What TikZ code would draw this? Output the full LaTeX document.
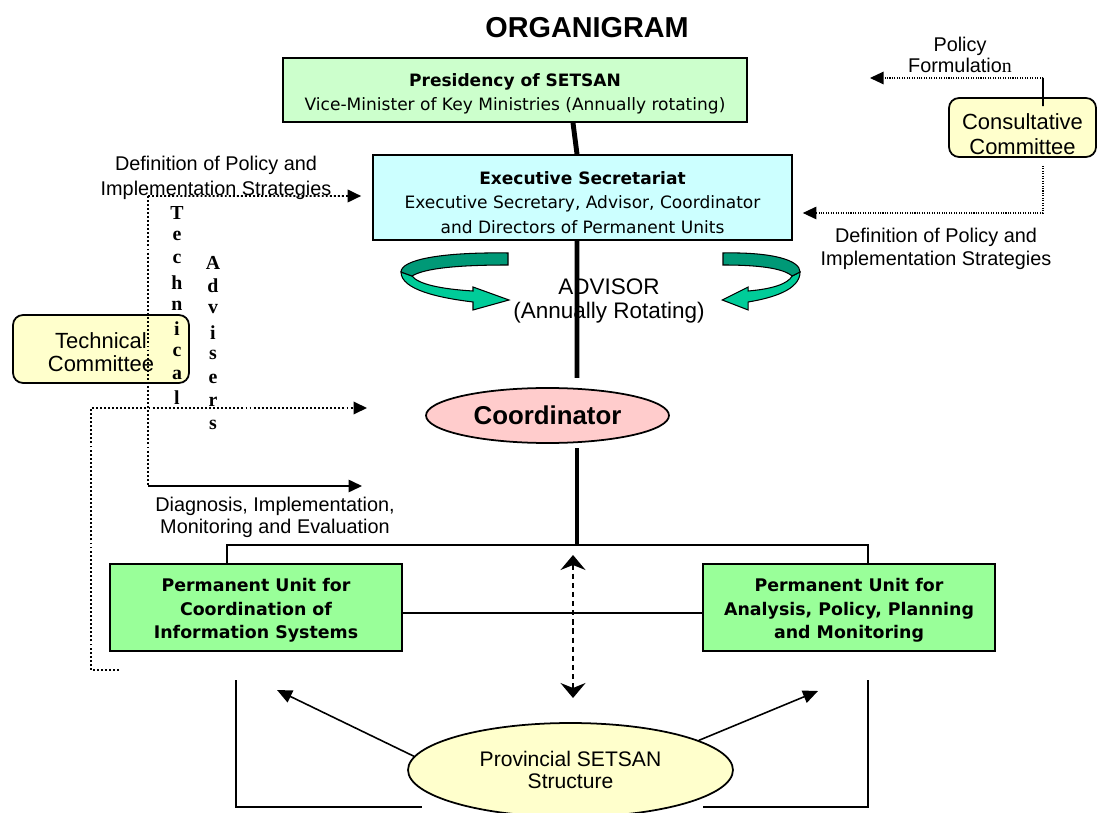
\documentclass[tikz,border=0pt]{standalone}
\usepackage{fontspec}
\setmainfont{Liberation Sans}
\newfontfamily\verdana{DejaVu Sans}
\newfontfamily\timesfont{Liberation Serif}
\usetikzlibrary{arrows.meta,shapes.geometric,positioning}

\definecolor{presgreen}{HTML}{CCFFCC}
\definecolor{execcyan}{HTML}{CCFFFF}
\definecolor{unitgreen}{HTML}{99FF99}
\definecolor{commyellow}{HTML}{FFFFCC}
\definecolor{coordpink}{HTML}{FFCCCC}
\definecolor{swirlfront}{HTML}{00CC99}
\definecolor{swirlback}{HTML}{009977}

\tikzset{
  boxed/.style={draw, line width=1pt, align=center, inner sep=0pt,
    font=\verdana\fontsize{9.7}{14}\selectfont},
  unitbox/.style={boxed, fill=unitgreen, minimum width=5.84cm, minimum height=1.74cm,
    font=\verdana\bfseries\fontsize{9.9}{13.3}\selectfont},
  committee/.style={draw, line width=1pt, rounded corners=0.2cm, fill=commyellow,
    align=center, inner sep=0pt, font=\fontsize{12.5}{14.2}\selectfont},
  notetext/.style={align=center, inner sep=0pt},
  vletter/.style={inner sep=0pt, font=\timesfont\bfseries\fontsize{11.3}{12}\selectfont},
  spine/.style={line width=2.8pt},
  link/.style={line width=0.9pt},
  dotline/.style={line width=1.1pt, dash pattern=on 1.1pt off 1.2pt},
  thindot/.style={line width=0.6pt, dash pattern=on 0.6pt off 0.8pt},
  headed/.style={-{Triangle[length=0.27cm,width=0.25cm]}}
}

% twisted ribbon arrow, drawn in pixel units
\newcommand{\advswirl}{%
  \filldraw[fill=swirlfront, line width=0.6pt] (401,272) .. controls (401,290) and (440,298) .. (473,302)
    -- (473,310) -- (509,300) -- (473,287) -- (473,291)
    .. controls (440,289) and (418,284) .. (412,276) -- cycle;
  \filldraw[fill=swirlback, line width=0.6pt] (508,253) .. controls (440,252) and (401,260) .. (401,272)
    -- (412,276) .. controls (425,268) and (460,265) .. (508,265) -- cycle;
}

\begin{document}
\begin{tikzpicture}[x=0.02cm,y=-0.02cm]
\path[use as bounding box, fill=white] (0,0) rectangle (1097,813);

\node[font=\bfseries\fontsize{16.4}{18}\selectfont] (title) at (587,28) {ORGANIGRAM};

% hierarchy
\node[boxed, fill=presgreen, minimum width=9.28cm, minimum height=1.28cm] (pres) at (515,90)
  {\rule{0pt}{11.9pt}\textbf{Presidency of SETSAN}\\Vice-Minister of Key Ministries (Annually rotating)};
\node[boxed, fill=execcyan, minimum width=8.38cm, minimum height=1.7cm] (exec) at (582.5,197.5)
  {\rule{0pt}{13pt}\textbf{Executive Secretariat}\\Executive Secretary, Advisor, Coordinator\\and Directors of Permanent Units};
\node[ellipse, draw, line width=1pt, fill=coordpink, minimum width=4.86cm, minimum height=1.1cm,
  inner sep=0pt, font=\bfseries\fontsize{14.7}{16}\selectfont] (coord) at (547.5,415.5) {Coordinator};
\node[unitbox] (uis) at (256,607.5) {\rule{0pt}{11pt}Permanent Unit for\\Coordination of\\Information Systems};
\node[unitbox] (uap) at (849,607.5) {\rule{0pt}{11pt}Permanent Unit for\\Analysis, Policy, Planning\\and Monitoring};
\node[ellipse, draw, line width=1pt, fill=commyellow, minimum width=6.5cm, minimum height=1.88cm,
  inner sep=0pt, align=center, font=\fontsize{12}{13}\selectfont] (prov) at (570.5,770) {Provincial SETSAN\\Structure};

% committees
\node[committee, minimum width=2.94cm, minimum height=1.18cm] (cons) at (1022.5,127.5) {\rule{0pt}{17pt}Consultative\\Committee};
\node[committee, minimum width=3.52cm, minimum height=1.36cm, font=\fontsize{12.5}{13}\selectfont] (tech) at (101,349) {\rule{0pt}{12.5pt}Technical\\Committee};

% texts
\node[notetext, font=\fontsize{11.3}{14.2}\selectfont] (defleft) at (216,177.5) {Definition of Policy and\\Implementation Strategies};
\node[notetext, font=\fontsize{11.3}{13}\selectfont] (defright) at (936,248.5) {Definition of Policy and\\Implementation Strategies};
\node[notetext, font=\fontsize{11.3}{11.5}\selectfont] (polform) at (960,55) {Policy\\Formulatio{\timesfont n}};
\node[notetext, font=\fontsize{11.3}{12.5}\selectfont] (diag) at (275,517) {Diagnosis, Implementation,\\Monitoring and Evaluation};
\node[notetext, font=\fontsize{12.8}{14.2}\selectfont] (adv) at (609,301) {ADVISOR\\(Annually Rotating)};

\foreach \ch [count=\i from 0] in {T,e,c,h,n,i,c,a,l}
  \node[vletter] (techl\i) at (177,213+23.1*\i) {\ch};
\foreach \ch [count=\i from 0] in {A,d,v,i,s,e,r,s}
  \node[vletter] (advl\i) at (213,263+23.1*\i) {\ch};

% advisor swirls
\advswirl
\begin{scope}[shift={(723,0)}, xscale=-0.72, shift={(-508,0)}]
  \advswirl
\end{scope}

% spine
\coordinate (advend) at (577,378);
\coordinate (coordlow) at (577,448);
\coordinate (bus) at (577,545);
\draw[spine] ([xshift=1.16cm]pres.south) -- ([xshift=-0.11cm]exec.north);
\draw[spine] ([xshift=-0.11cm]exec.south) -- (advend);
\draw[spine] (coordlow) -- (bus);

% permanent units
\draw[link] ([xshift=-0.58cm]uis.north) |- (bus) -| ([xshift=0.38cm]uap.north);
\draw[link] ([yshift=-0.11cm]uis.east) -- ([yshift=-0.11cm]uap.west);
\coordinate (dashtop) at (573,555);
\coordinate (dashbot) at (573,698);
\draw[line width=1pt, dash pattern=on 3pt off 2.2pt,
  {Stealth[length=0.3cm,width=0.5cm,inset=0.1cm]}-{Stealth[length=0.3cm,width=0.5cm,inset=0.1cm]}] (dashtop) -- (dashbot);

% province
\coordinate (lbrtop) at (236,680);
\coordinate (lbrend) at (422,807);
\coordinate (rbrtop) at (868,680);
\coordinate (rbrend) at (703,807);
\draw[link] (lbrtop) |- (lbrend);
\draw[link] (rbrtop) |- (rbrend);
\coordinate (lprovtip) at (277,690);
\coordinate (rprovtip) at (818,691);
\draw[link, -{Triangle[length=0.3cm,width=0.26cm]}] (prov.175) -- (lprovtip);
\draw[link, -{Triangle[length=0.3cm,width=0.26cm]}] (prov.13) -- (rprovtip);

% consultative committee
\coordinate (pfcorner) at (1043,78);
\coordinate (pftip) at (870,78);
\draw[link] ([xshift=0.41cm,yshift=-0.18cm]cons.north) -- (pfcorner);
\draw[thindot, headed] (pfcorner) -- (pftip);
\draw[thindot, headed] ([xshift=0.41cm,yshift=-0.16cm]cons.south) |- ([xshift=0.2cm,yshift=-0.31cm]exec.east);

% technical committee
\coordinate (techtop) at (148,196);
\coordinate (techfoot) at (148,486);
\coordinate (diagtip) at (362,486);
\draw[dotline, headed] (techtop) -- ([xshift=-0.22cm,yshift=0.03cm]exec.west);
\draw[dotline] (techtop) -- (techfoot);
\draw[link, headed] (techfoot) -- (diagtip);
\coordinate (loopend) at (119,670);
\coordinate (looptop) at (91,408);
\coordinate (looptip) at (367,408);
\draw[dotline, headed] (loopend) -| (looptop) -- (looptip);

\end{tikzpicture}
\end{document}
